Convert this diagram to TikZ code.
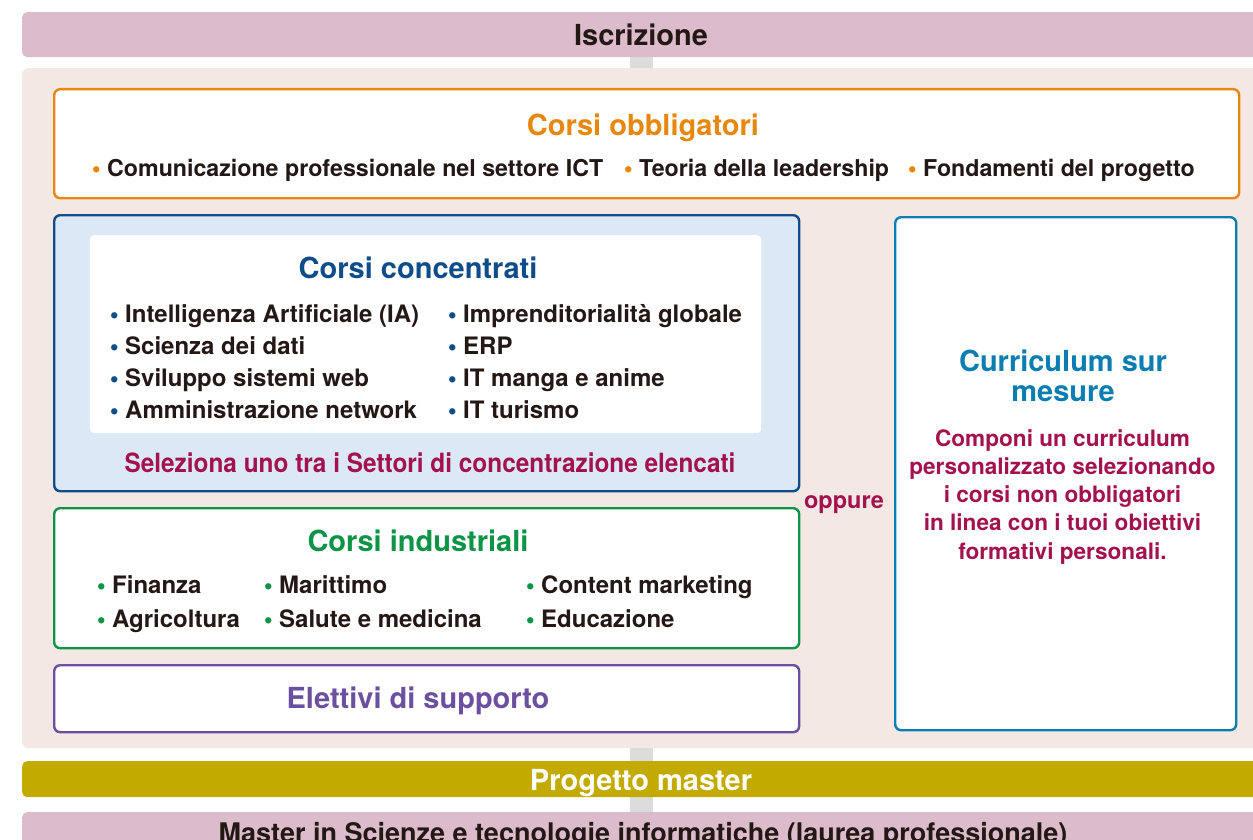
\documentclass[tikz,border=0pt]{standalone}
\usepackage{fontspec}
\setmainfont{TeX Gyre Heros}
\newfontfamily\bulletfont{DejaVu Sans}
\newfontfamily\narrowfont{TeX Gyre Heros}[FakeStretch=0.92]
\usetikzlibrary{backgrounds}

\definecolor{bandpink}{HTML}{DCBCCB}
\definecolor{panelbg}{HTML}{F3E8E4}
\definecolor{obborange}{HTML}{E8870E}
\definecolor{concblue}{HTML}{0F4D8A}
\definecolor{concfill}{HTML}{DDE8F6}
\definecolor{indgreen}{HTML}{0E9447}
\definecolor{elepurple}{HTML}{6B4FA0}
\definecolor{curcyan}{HTML}{0B7EB1}
\definecolor{crimson}{HTML}{A3124F}
\definecolor{projolive}{HTML}{C2AA00}
\definecolor{spinegray}{HTML}{DCDCDC}
\definecolor{inkdark}{HTML}{231815}

\tikzset{
  box/.style={draw, line width=2.4pt, rounded corners=6pt, fill=white, anchor=north west, inner sep=0pt},
  band/.style={rounded corners=5pt, anchor=north west, inner sep=0pt, minimum width=1238pt},
  ttl/.style={anchor=base, inner sep=0pt, font=\bfseries\fontsize{29}{33}\selectfont},
  itm/.style={anchor=base west, inner sep=0pt, text=inkdark, font=\bfseries\fontsize{24}{27}\selectfont},
  note/.style={anchor=base, inner sep=0pt, text=crimson, font=\bfseries\fontsize{23.5}{27}\selectfont},
}
% bullet hanging left of the item text
\newcommand{\blt}[1]{\llap{\textcolor{#1}{\bulletfont\fontsize{18}{18}\selectfont •}\hspace{5pt}}}

\begin{document}
\begin{tikzpicture}[x=1pt, y=-1pt]
  \useasboundingbox (0,0) rectangle (1253,840);
  \clip (0,0) rectangle (1253,840);

  % bands and panel
  \node[band, fill=bandpink, minimum height=45pt] (iscr) at (22,12) {};
  \node[ttl, text=inkdark] (iscrt) at (641,46) {Iscrizione};
  \node[rounded corners=6pt, fill=panelbg, anchor=north west, minimum width=1250pt, minimum height=680pt] (panel) at (22,68) {};
  \node[band, fill=projolive, minimum height=36pt] (proj) at (22,761) {};
  \node[ttl, text=white] (projt) at (641,790.5) {Progetto master};
  \node[band, fill=bandpink, minimum height=45pt] (master) at (22,812) {};
  \node[ttl, text=inkdark, font=\bfseries\fontsize{27}{30}\selectfont] (mastert) at (643,842) {Master in Scienze e tecnologie informatiche (laurea professionale)};

  \begin{scope}[on background layer]
    \draw[spinegray, line width=23pt] (iscr.center) -- (master.center);
  \end{scope}

  % corsi obbligatori
  \node[box, draw=obborange, minimum width=1185pt, minimum height=109pt] (obb) at (53,88) {};
  \node[ttl, text=obborange] (obbt) at (643,136) {Corsi obbligatori};
  \node[itm, font=\bfseries\fontsize{23.2}{27}\selectfont] (obb1) at (107,176.5) {\blt{obborange}Comunicazione professionale nel settore ICT};
  \node[itm, font=\bfseries\fontsize{23.2}{27}\selectfont] (obb2) at (639,176.5) {\blt{obborange}Teoria della leadership};
  \node[itm, font=\bfseries\fontsize{23.2}{27}\selectfont] (obb3) at (923,176.5) {\blt{obborange}Fondamenti del progetto};

  % corsi concentrati
  \node[box, draw=concblue, fill=concfill, minimum width=745pt, minimum height=276pt] (conc) at (53,214) {};
  \node[fill=white, rounded corners=4pt, anchor=north west, minimum width=671pt, minimum height=198pt] (concin) at (90,235) {};
  \node[ttl, text=concblue] (conct) at (418,278.5) {Corsi concentrati};
  \foreach \a/\b [count=\i] in {Intelligenza Artificiale (IA)/Imprenditorialità globale,
      Scienza dei dati/ERP, Sviluppo sistemi web/IT manga e anime,
      Amministrazione network/IT turismo}{
    \node[itm] (concl\i) at (125,{322+32.3*(\i-1)}) {\blt{concblue}\a};
    \node[itm] (concr\i) at (463,{322+32.3*(\i-1)}) {\blt{concblue}\b};
  }
  \node[note, font=\narrowfont\bfseries\fontsize{26.5}{30}\selectfont] (concn) at (430,472) {Seleziona uno tra i Settori di concentrazione elencati};

  % corsi industriali
  \node[box, draw=indgreen, minimum width=745pt, minimum height=140pt] (ind) at (53,507) {};
  \node[ttl, text=indgreen] (indt) at (418,551) {Corsi industriali};
  \foreach \a/\b/\c [count=\i] in {Finanza/Marittimo/Content marketing,
      Agricoltura/Salute e medicina/Educazione}{
    \node[itm] (inda\i) at (112,{593.5+33.5*(\i-1)}) {\blt{indgreen}\a};
    \node[itm] (indb\i) at (279,{593.5+33.5*(\i-1)}) {\blt{indgreen}\b};
    \node[itm] (indc\i) at (541,{593.5+33.5*(\i-1)}) {\blt{indgreen}\c};
  }

  % elettivi
  \node[box, draw=elepurple, minimum width=745pt, minimum height=67pt] (ele) at (53,664) {};
  \node[ttl, text=elepurple] (elet) at (418,708.5) {Elettivi di supporto};

  \node[note] (oppure) at (844,508) {oppure};

  % curriculum sur mesure
  \node[box, draw=curcyan, minimum width=341pt, minimum height=513pt] (cur) at (894,216) {};
  \node[ttl, text=curcyan] (curt1) at (1063,371.5) {Curriculum sur};
  \node[ttl, text=curcyan] (curt2) at (1063,401) {mesure};
  \foreach \t [count=\i] in {Componi un curriculum, personalizzato selezionando,
      i corsi non obbligatori, in linea con i tuoi obiettivi, formativi personali.}{
    \node[note, font=\bfseries\fontsize{22.6}{26}\selectfont] (cur\i) at (1062.5,{446+28.3*(\i-1)}) {\t};
  }
\end{tikzpicture}
\end{document}
